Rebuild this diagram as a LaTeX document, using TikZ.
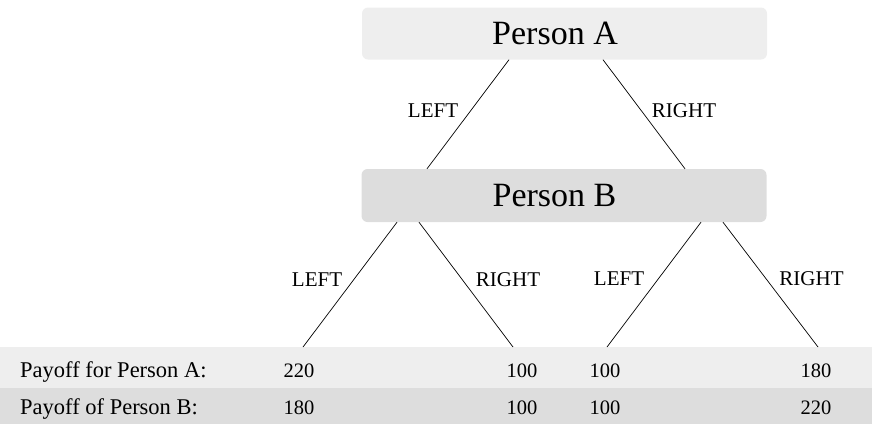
\documentclass[tikz,border=0pt]{standalone}
\usepackage{fontspec}
\setmainfont{Liberation Serif}
\definecolor{boxA}{HTML}{EEEEEE}
\definecolor{boxB}{HTML}{DDDDDD}
\begin{document}
\begin{tikzpicture}[x=1pt,y=-1pt,
  person/.style={rounded corners=6pt, minimum width=405pt, minimum height=52pt, inner sep=0pt, font=\fontsize{34}{40}\selectfont},
  edge/.style={draw=black, line width=0.7pt},
  choice/.style={anchor=base, inner sep=0pt, font=\fontsize{21}{25}\selectfont},
  cell/.style={anchor=base, inner sep=0pt, font=\fontsize{20.5}{25}\selectfont},
  rowhead/.style={anchor=base west, inner sep=0pt, font=\fontsize{22.5}{27}\selectfont}]
\useasboundingbox (0,0) rectangle (872,424);
% table rows
\fill[boxA] (0,347) rectangle (872,388);
\fill[boxB] (0,388) rectangle (872,424);
% decision nodes
\node[person, fill=boxA] (A) at (564.5,33.5) {Person A\hspace*{19pt}};
\node[person, fill=boxB, minimum height=53pt] (B) at (564,195.5) {Person B\hspace*{19pt}};
% leaf ends
\coordinate (l1) at (303,347);
\coordinate (l2) at (513,347);
\coordinate (l3) at (607,347);
\coordinate (l4) at (818,347);
% edges
\draw[edge] ([xshift=-55.5pt]A.south) -- ([xshift=-137pt]B.north);
\draw[edge] ([xshift=38.5pt]A.south) -- ([xshift=121pt]B.north);
\draw[edge] ([xshift=-167pt]B.south) -- (l1);
\draw[edge] ([xshift=-145pt]B.south) -- (l2);
\draw[edge] ([xshift=137pt]B.south) -- (l3);
\draw[edge] ([xshift=159pt]B.south) -- (l4);
% edge labels
\node[choice] (aL) at (433,117) {LEFT};
\node[choice] (aR) at (684,117) {RIGHT};
\node[choice] (bLL) at (317,286) {LEFT};
\node[choice] (bLR) at (508,286) {RIGHT};
\node[choice] (bRL) at (619,285) {LEFT};
\node[choice] (bRR) at (811.5,285) {RIGHT};
% payoff table
\node[rowhead] (ha) at (20,377) {Payoff for Person A:};
\node[rowhead] (hb) at (20,414) {Payoff of Person B:};
\node[cell] (a1) at (299,377) {220};
\node[cell] (a2) at (522,377) {100};
\node[cell] (a3) at (605,377) {100};
\node[cell] (a4) at (816,377) {180};
\node[cell] (b1) at (299,414) {180};
\node[cell] (b2) at (522,414) {100};
\node[cell] (b3) at (605,414) {100};
\node[cell] (b4) at (816,414) {220};
\end{tikzpicture}
\end{document}
